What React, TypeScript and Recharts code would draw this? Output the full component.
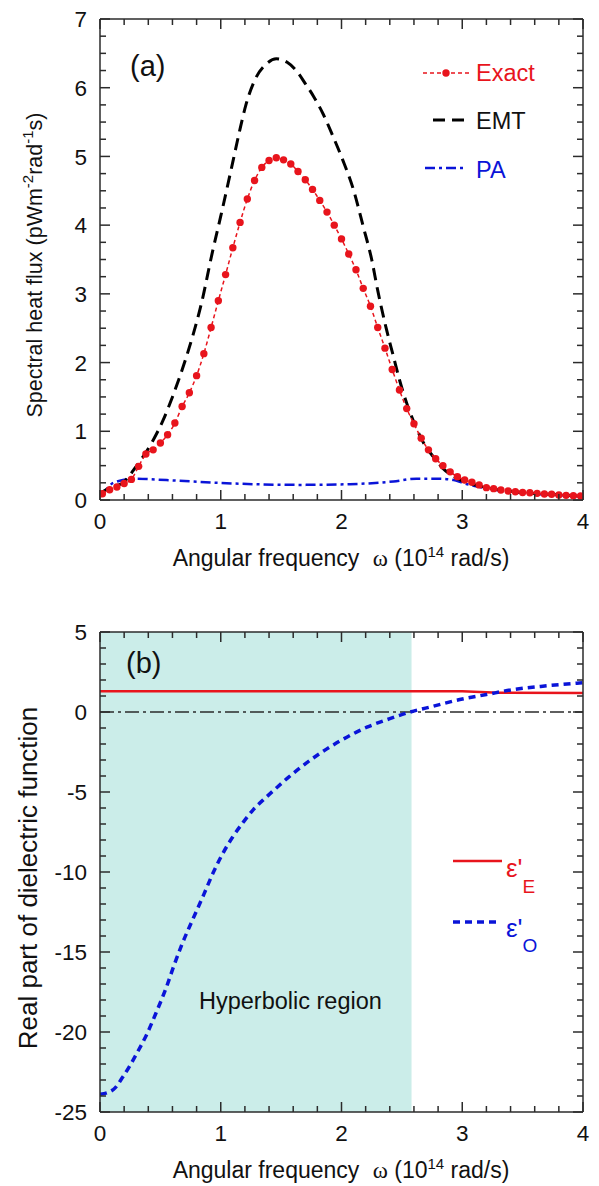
import { ComposedChart, Line, XAxis, YAxis, ReferenceArea, ReferenceLine } from "recharts";

const FONT = '"Liberation Sans", Arial, sans-serif';
const AXIS = "#2b2b2b";
const RED = "#e8141c";
const BLUE = "#0a14d8";
const TEAL = "#cbede9";

const range = (a: number, b: number, s: number) => {
  const out: number[] = [];
  for (let i = 0; a + i * s <= b + 1e-9; i++) out.push(+(a + i * s).toFixed(4));
  return out;
};

// tick labels
const omegaLabels = [0, 1, 2, 3, 4];
const fluxLabels = [0, 1, 2, 3, 4, 5, 6, 7];
const epsLabels = [-25, -20, -15, -10, -5, 0, 5];
const omegaTicks = range(0, 4, 0.2);
const fluxTicks = range(0, 7, 0.25);
const epsTicks = range(-25, 5, 1);

// (a) spectral heat flux
const exactOmega = [
  0.02, 0.08, 0.14, 0.2, 0.26, 0.32, 0.38, 0.44, 0.5, 0.56, 0.62, 0.68, 0.74, 0.8, 0.86, 0.92, 0.98,
  1.04, 1.1, 1.16, 1.22, 1.28, 1.34, 1.4, 1.46, 1.52, 1.58, 1.64, 1.7, 1.76, 1.82, 1.88, 1.94, 2.0,
  2.06, 2.12, 2.18, 2.24, 2.3, 2.36, 2.42, 2.48, 2.54, 2.6, 2.66, 2.72, 2.78, 2.84, 2.9, 2.96, 3.02,
  3.08, 3.14, 3.2, 3.26, 3.32, 3.38, 3.44, 3.5, 3.56, 3.62, 3.68, 3.74, 3.8, 3.86, 3.92, 3.98,
];
const exactFlux = [
  0.09, 0.15, 0.19, 0.24, 0.3, 0.49, 0.67, 0.73, 0.83, 0.95, 1.12, 1.36, 1.56, 1.81, 2.13, 2.51, 2.9,
  3.28, 3.67, 4.04, 4.38, 4.65, 4.84, 4.94, 4.98, 4.95, 4.89, 4.78, 4.66, 4.52, 4.36, 4.19, 4.0, 3.8,
  3.58, 3.35, 3.08, 2.82, 2.51, 2.21, 1.9, 1.6, 1.33, 1.11, 0.9, 0.73, 0.6, 0.5, 0.41, 0.34, 0.29,
  0.26, 0.22, 0.18, 0.165, 0.146, 0.13, 0.12, 0.11, 0.105, 0.097, 0.087, 0.083, 0.073, 0.068, 0.063, 0.058,
];
const emtOmega = [
  0, 0.1, 0.19, 0.3, 0.44, 0.52, 0.6, 0.7, 0.77, 0.84, 0.93, 1.0, 1.1, 1.16, 1.21, 1.29, 1.38, 1.46,
  1.55, 1.63, 1.7, 1.77, 1.85, 1.93, 2.01, 2.1, 2.18, 2.25, 2.3, 2.37, 2.43, 2.48, 2.54, 2.61, 2.68,
  2.76, 2.84, 2.93, 3.0, 3.2, 3.5, 3.8, 4.0,
];
const emtFlux = [
  0.1, 0.19, 0.25, 0.49, 0.87, 1.15, 1.5, 2.0, 2.4, 2.86, 3.6, 4.13, 4.92, 5.4, 5.76, 6.14, 6.35, 6.42,
  6.37, 6.24, 6.06, 5.87, 5.61, 5.29, 4.95, 4.51, 3.98, 3.5, 3.05, 2.5, 2.09, 1.75, 1.41, 1.09, 0.83,
  0.63, 0.46, 0.34, 0.28, 0.18, 0.11, 0.075, 0.055,
];
const paOmega = [0, 0.03, 0.11, 0.28, 0.55, 0.97, 1.66, 2.07, 2.43, 2.62, 2.81, 2.93, 3.0, 3.2, 3.5, 3.8, 4.0];
const paFlux = [0.1, 0.12, 0.25, 0.31, 0.29, 0.25, 0.22, 0.23, 0.27, 0.31, 0.31, 0.29, 0.25, 0.17, 0.1, 0.07, 0.05];

// (b) real part of dielectric function
const epsEOmega = [0, 3.0, 3.3, 4.0];
const epsEValue = [1.3, 1.3, 1.2, 1.18];
const epsOOmega = [
  0, 0.11, 0.19, 0.3, 0.39, 0.47, 0.55, 0.61, 0.68, 0.76, 0.86, 0.94, 1.02, 1.1, 1.19, 1.27, 1.38,
  1.46, 1.55, 1.63, 1.79, 1.99, 2.21, 2.4, 2.57, 2.76, 2.98, 3.2, 3.42, 3.65, 3.95, 4.0,
];
const epsOValue = [
  -23.9, -23.6, -22.8, -21.4, -20.1, -18.7, -17.2, -15.9, -14.5, -13.1, -11.4, -10.0, -8.8, -7.8, -6.85,
  -6.1, -5.3, -4.75, -4.15, -3.65, -2.75, -1.8, -0.95, -0.42, 0, 0.36, 0.78, 1.09, 1.4, 1.6, 1.8, 1.83,
];
const hyperbolicEnd = 2.58;

const zip = (xs: number[], ys: number[]) => xs.map((w, i) => ({ w, v: ys[i] }));
const exactData = zip(exactOmega, exactFlux);
const emtData = zip(emtOmega, emtFlux);
const paData = zip(paOmega, paFlux);
const epsEData = zip(epsEOmega, epsEValue);
const epsOData = zip(epsOOmega, epsOValue);

const isMajor = (v: number, majors: number[]) => majors.some((m) => Math.abs(m - v) < 1e-6);

function makeTick(side: "bottom" | "top" | "left" | "right", majors: number[], labels: boolean) {
  return (p: any) => {
    const { x, y, payload } = p;
    const v = payload.value;
    const major = isMajor(v, majors);
    const len = major ? 10 : 6;
    const lp = { stroke: AXIS, strokeWidth: 1.5 };
    const tp = { fontFamily: FONT, fontSize: 22.5, fill: "#111" };
    if (side === "bottom")
      return (
        <g>
          <line x1={x} x2={x} y1={y} y2={y - len} {...lp} />
          {labels && major && (
            <text x={x} y={y + 29} textAnchor="middle" {...tp}>
              {v}
            </text>
          )}
        </g>
      );
    if (side === "top") return <line x1={x} x2={x} y1={y} y2={y + len} {...lp} />;
    if (side === "left")
      return (
        <g>
          <line x1={x} x2={x + len} y1={y} y2={y} {...lp} />
          {labels && major && (
            <text x={x - 13} y={y} dy="0.36em" textAnchor="end" {...tp}>
              {v}
            </text>
          )}
        </g>
      );
    return <line x1={x} x2={x - len} y1={y} y2={y} {...lp} />;
  };
}

// box axes (bottom/left labelled, top/right mirrored ticks only)
function boxAxes(yDomain: [number, number], yTicks: number[], yMajors: number[]) {
  const axisLine = { stroke: AXIS, strokeWidth: 1.5 };
  return [
    <XAxis key="xb" xAxisId="b" dataKey="w" type="number" domain={[0, 4]} ticks={omegaTicks} interval={0}
      height={1} tickSize={0} tickMargin={0} tickLine={false} axisLine={axisLine}
      tick={makeTick("bottom", omegaLabels, true)} allowDataOverflow />,
    <XAxis key="xt" xAxisId="t" orientation="top" dataKey="w" type="number" domain={[0, 4]} ticks={omegaTicks}
      interval={0} height={1} tickSize={0} tickMargin={0} tickLine={false} axisLine={axisLine}
      tick={makeTick("top", omegaLabels, false)} allowDataOverflow />,
    <YAxis key="yl" yAxisId="l" type="number" domain={yDomain} ticks={yTicks} interval={0} width={100}
      tickSize={0} tickMargin={0} tickLine={false} axisLine={axisLine}
      tick={makeTick("left", yMajors, true)} allowDataOverflow />,
    <YAxis key="yr" yAxisId="r" orientation="right" type="number" domain={yDomain} ticks={yTicks} interval={0}
      width={1} tickSize={0} tickMargin={0} tickLine={false} axisLine={axisLine}
      tick={makeTick("right", yMajors, false)} allowDataOverflow />,
  ];
}

export default function App() {
  const txt = { fontFamily: FONT, fill: "#111" };
  return (
    <div style={{ position: "absolute", left: 0, top: 0, width: 599, height: 1186, background: "#fff" }}>
      <div style={{ position: "absolute", left: 0, top: 0 }}>
        <ComposedChart width={599} height={560} margin={{ top: 18, right: 15, bottom: 59, left: 0 }}>
          {boxAxes([0, 7], fluxTicks, fluxLabels)}
          {/* invisible series bound to the mirrored axes so they get drawn */}
          <Line xAxisId="t" yAxisId="r" data={paData} dataKey="v" stroke="none" dot={false}
            activeDot={false} isAnimationActive={false} />
          <Line xAxisId="b" yAxisId="l" data={paData} dataKey="v" type="monotone" stroke={BLUE}
            strokeWidth={2.5} strokeDasharray="10 4 3 4" dot={false} isAnimationActive={false} />
          <Line xAxisId="b" yAxisId="l" data={emtData} dataKey="v" type="monotone" stroke="#000"
            strokeWidth={3} strokeDasharray="12 7" dot={false} isAnimationActive={false} />
          <Line xAxisId="b" yAxisId="l" data={exactData} dataKey="v" type="monotone" stroke={RED}
            strokeWidth={1.5} strokeDasharray="4 3"
            dot={{ r: 3.7, fill: RED, stroke: RED, strokeWidth: 0 }} isAnimationActive={false} />
        </ComposedChart>
      </div>
      <div style={{ position: "absolute", left: 0, top: 600 }}>
        <ComposedChart width={599} height={586} margin={{ top: 31, right: 15, bottom: 73, left: 0 }}>
          {boxAxes([-25, 5], epsTicks, epsLabels)}
          <ReferenceArea xAxisId="b" yAxisId="l" x1={0} x2={hyperbolicEnd} y1={-25} y2={5} fill={TEAL}
            fillOpacity={1} stroke="none" />
          <ReferenceLine xAxisId="b" yAxisId="l" y={0} stroke={AXIS} strokeWidth={1.5}
            strokeDasharray="14 4 3 4" />
          <Line xAxisId="t" yAxisId="r" data={epsEData} dataKey="v" stroke="none" dot={false}
            activeDot={false} isAnimationActive={false} />
          <Line xAxisId="b" yAxisId="l" data={epsEData} dataKey="v" type="linear" stroke={RED}
            strokeWidth={2.5} dot={false} isAnimationActive={false} />
          <Line xAxisId="b" yAxisId="l" data={epsOData} dataKey="v" type="monotone" stroke={BLUE}
            strokeWidth={3.5} strokeDasharray="7 5" dot={false} isAnimationActive={false} />
        </ComposedChart>
      </div>
      <svg width={599} height={1186} style={{ position: "absolute", left: 0, top: 0, pointerEvents: "none" }}>
        {/* panel (a) */}
        <text x={130} y={76} fontSize={29} {...txt}>(a)</text>
        <line x1={423} x2={470} y1={73} y2={73} stroke={RED} strokeWidth={1.5} strokeDasharray="4 3" />
        <circle cx={446} cy={73} r={3.7} fill={RED} />
        <text x={476} y={81} fontSize={23.5} fontFamily={FONT} fill={RED}>Exact</text>
        <line x1={433} x2={468} y1={120} y2={120} stroke="#000" strokeWidth={3} strokeDasharray="12 7" />
        <text x={476} y={129} fontSize={23.5} {...txt}>EMT</text>
        <line x1={425} x2={464} y1={168} y2={168} stroke={BLUE} strokeWidth={2.5} strokeDasharray="10 4 3 4" />
        <text x={476} y={178} fontSize={23.5} fontFamily={FONT} fill={BLUE}>PA</text>
        <text x={341} y={566} textAnchor="middle" fontSize={23} {...txt}>
          Angular frequency <tspan dx={7} fontFamily='"Liberation Serif", serif'>ω</tspan> (10
          <tspan dy={-9} fontSize={15}>14</tspan>
          <tspan dy={9}> rad/s)</tspan>
        </text>
        <text transform="translate(42,265) rotate(-90)" textAnchor="middle" fontSize={21.5} {...txt}>
          Spectral heat flux (pWm<tspan dy={-9} fontSize={15}>-2</tspan>
          <tspan dy={9}>rad</tspan>
          <tspan dy={-9} fontSize={15}>-1</tspan>
          <tspan dy={9}>s)</tspan>
        </text>
        {/* panel (b) */}
        <text x={126} y={673} fontSize={29} {...txt}>(b)</text>
        <line x1={453} x2={502} y1={861} y2={861} stroke={RED} strokeWidth={2.5} />
        <text x={506} y={877} fontSize={26} fontFamily={FONT} fill={RED}>
          ε'<tspan dy={16} fontSize={19}>E</tspan>
        </text>
        <line x1={453} x2={496} y1={922} y2={922} stroke={BLUE} strokeWidth={3.5} strokeDasharray="7 5" />
        <text x={506} y={937} fontSize={26} fontFamily={FONT} fill={BLUE}>
          ε'<tspan dy={15} fontSize={19}>O</tspan>
        </text>
        <text x={199} y={1009} fontSize={23.5} {...txt}>Hyperbolic region</text>
        <text x={341} y={1178} textAnchor="middle" fontSize={23} {...txt}>
          Angular frequency <tspan dx={7} fontFamily='"Liberation Serif", serif'>ω</tspan> (10
          <tspan dy={-9} fontSize={15}>14</tspan>
          <tspan dy={9}> rad/s)</tspan>
        </text>
        <text transform="translate(37,878) rotate(-90)" textAnchor="middle" fontSize={26} {...txt}>
          Real part of dielectric function
        </text>
      </svg>
    </div>
  );
}
